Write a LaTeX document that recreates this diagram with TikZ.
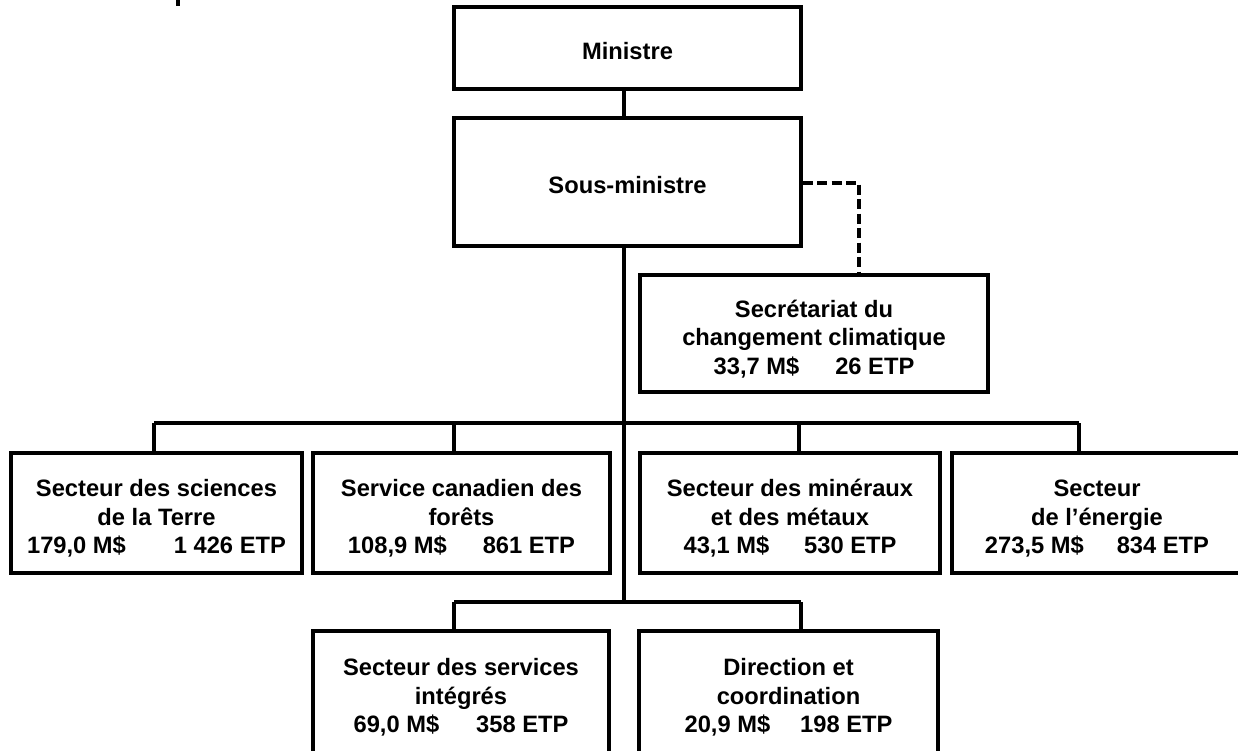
\documentclass[tikz,border=0pt]{standalone}
\usepackage{fontspec}
\setmainfont{Liberation Sans}
\begin{document}
\begin{tikzpicture}[x=1pt, y=-1pt,
		box/.style={draw, line width=3.3, inner sep=0pt, align=center,
			text height=84pt, text depth=3pt,
			font=\bfseries\fontsize{23.7}{28.5}\selectfont},
		onebox/.style={box, text height=26pt},
		link/.style={line width=3.2}]
	\clip (0,0) rectangle (1238,751);
	\fill (176,0) rectangle (180,6);
	% top of the chart
	\node[onebox, minimum width=347pt, minimum height=82pt] (min) at (627.5,48) {Ministre};
	\node[onebox, minimum width=347pt, minimum height=128pt] (sous) at (627.5,182) {Sous-ministre};
	\node[box, minimum width=348pt, minimum height=117pt] (secr) at (814,333.5)
		{Secrétariat du\\changement climatique\\33,7 M\$\hspace{36pt}26 ETP};
	% first row of sectors
	\node[box, minimum width=291pt, minimum height=120pt] (terre) at (156.5,513)
		{Secteur des sciences\\de la Terre\\179,0 M\$\hspace{48pt}1 426 ETP};
	\node[box, minimum width=297pt, minimum height=120pt] (forets) at (461.5,513)
		{Service canadien des\\forêts\\108,9 M\$\hspace{36pt}861 ETP};
	\node[box, minimum width=300pt, minimum height=120pt] (mine) at (790,513)
		{Secteur des minéraux\\et des métaux\\43,1 M\$\hspace{35pt}530 ETP};
	\node[box, minimum width=290pt, minimum height=120pt] (energie) at (1097,513)
		{Secteur\\de l’énergie\\273,5 M\$\hspace{33pt}834 ETP};
	% second row
	\node[box, minimum width=296pt, minimum height=124pt, text height=82pt] (integ) at (461,693)
		{Secteur des services\\intégrés\\69,0 M\$\hspace{37pt}358 ETP};
	\node[box, minimum width=299pt, minimum height=124pt, text height=82pt] (dircoord) at (788.5,693)
		{Direction et\\coordination\\20,9 M\$\hspace{30pt}198 ETP};
	% the lines
	\coordinate (spine) at (624,0);
	\coordinate (busup) at (0,423);
	\coordinate (buslow) at (0,602);
	\draw[link] (min.south -| spine) -- (sous.north -| spine);
	\draw[link] (sous.south -| spine) -- (spine |- buslow);
	\draw[link] (154,423) -- (1079,423);
	\draw[link] (454,602) -- (801,602);
	\draw[link] (154,423) -- (154,0 |- terre.north);
	\draw[link] (454,423) -- (454,0 |- forets.north);
	\draw[link] (799,423) -- (799,0 |- mine.north);
	\draw[link] (1079,423) -- (1079,0 |- energie.north);
	\draw[link] (454,602) -- (454,0 |- integ.north);
	\draw[link] (801,602) -- (801,0 |- dircoord.north);
	\draw[link, dash pattern=on 10pt off 4.5pt] (sous.east |- 0,183) -- (859,183) -- (859,0 |- secr.north);
\end{tikzpicture}
\end{document}
